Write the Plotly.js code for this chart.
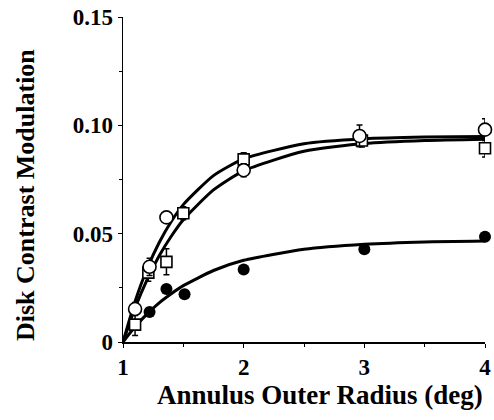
<!DOCTYPE html>
<html>
<head>
<meta charset="utf-8">
<script src="https://cdn.plot.ly/plotly-3.0.1.min.js"></script>
<style>
  html, body { margin: 0; padding: 0; background: #fff; }
  #chart { width: 494px; height: 420px; }
</style>
</head>
<body>
<div id="chart"></div>
<script>
// Measured points (annulus outer radius in deg, disk contrast modulation)
const openX   = [1.10, 1.22, 1.36, 2.00, 2.96, 4.00];
const openY   = [0.0152, 0.0347, 0.0575, 0.0793, 0.0951, 0.0980];
const openErr = [0.003, 0.004, 0.002, 0.003, 0.005, 0.005];

const squareX   = [1.10, 1.21, 1.36, 1.50, 2.00, 2.98, 4.00];
const squareY   = [0.0080, 0.0320, 0.0370, 0.0594, 0.0843, 0.0930, 0.0894];
const squareErr = [0.005, 0.004, 0.006, 0.003, 0.003, 0.003, 0.004];

const filledX = [1.22, 1.36, 1.51, 2.00, 3.00, 4.00];
const filledY = [0.0138, 0.0245, 0.0220, 0.0335, 0.0428, 0.0486];

// Fitted curves, sampled along the radius axis
const curveX      = [1.00, 1.10, 1.20, 1.30, 1.40, 1.50, 1.75, 2.00, 2.50, 3.00, 3.50, 4.00];
const curveUpperY = [0, 0.0187, 0.0338, 0.0459, 0.0556, 0.0634, 0.0768, 0.0845, 0.0915, 0.0938, 0.0946, 0.0949];
const curveLowerY = [0, 0.0157, 0.0288, 0.0398, 0.0488, 0.0564, 0.0702, 0.0790, 0.0880, 0.0916, 0.0930, 0.0936];
const curveDiskY  = [0, 0.0070, 0.0130, 0.0181, 0.0223, 0.0260, 0.0330, 0.0377, 0.0428, 0.0451, 0.0462, 0.0466];

const yTickVals = [0, 0.05, 0.10, 0.15];
const yTickText = ['0', '0.05', '0.10', '0.15'];
const xTickVals = [1, 2, 3, 4];
const xTickText = ['1', '2', '3', '4'];

const xTitle = 'Annulus Outer Radius (deg)';
const yTitle = 'Disk Contrast Modulation';

const serif = 'Liberation Serif, Times New Roman, serif';

const curveLine = { color: '#000', width: 3, shape: 'spline', smoothing: 0.6 };

const traces = [
  { x: curveX, y: curveUpperY, mode: 'lines', line: curveLine, hoverinfo: 'skip' },
  { x: curveX, y: curveLowerY, mode: 'lines', line: curveLine, hoverinfo: 'skip' },
  { x: curveX, y: curveDiskY,  mode: 'lines', line: curveLine, hoverinfo: 'skip' },
  {
    x: filledX, y: filledY, mode: 'markers', cliponaxis: false,
    marker: { symbol: 'circle', size: 12, color: '#000' }
  },
  {
    x: squareX, y: squareY, mode: 'markers', cliponaxis: false,
    error_y: { type: 'data', array: squareErr, color: '#000', thickness: 1.5, width: 3 },
    marker: { symbol: 'square', size: 11, color: '#fff', line: { color: '#000', width: 1.6 } }
  },
  {
    x: openX, y: openY, mode: 'markers', cliponaxis: false,
    error_y: { type: 'data', array: openErr, color: '#000', thickness: 1.5, width: 3 },
    marker: { symbol: 'circle', size: 13, color: '#fff', line: { color: '#000', width: 1.6 } }
  }
];

const axisCommon = {
  ticks: 'outside',
  ticklen: 4,
  tickwidth: 1,
  tickcolor: '#000',
  showline: true,
  linecolor: '#000',
  linewidth: 1.5,
  showgrid: false,
  zeroline: false,
  tickfont: { family: serif, size: 23, weight: 'bold' }
};

const layout = {
  width: 494,
  height: 420,
  margin: { l: 123, r: 9, t: 17, b: 78 },
  paper_bgcolor: '#fff',
  plot_bgcolor: '#fff',
  showlegend: false,
  font: { family: serif, color: '#000', size: 23, weight: 'bold' },
  xaxis: Object.assign({}, axisCommon, {
    range: [1, 4],
    tickvals: xTickVals,
    ticktext: xTickText,
    minor: { dtick: 0.5, ticks: 'outside', ticklen: 3, tickcolor: '#000' }
  }),
  yaxis: Object.assign({}, axisCommon, {
    range: [0, 0.15],
    tickvals: yTickVals,
    ticktext: yTickText,
    minor: { dtick: 0.025, ticks: 'outside', ticklen: 3, tickcolor: '#000' }
  }),
  // Axis titles placed as annotations so they can sit off-centre
  annotations: [
    {
      text: xTitle, xref: 'paper', yref: 'paper',
      x: 0.544, y: -0.163, xanchor: 'center', yanchor: 'middle',
      showarrow: false, font: { family: serif, size: 27, weight: 'bold', color: '#000' }
    },
    {
      text: yTitle, xref: 'paper', yref: 'paper', textangle: -90,
      x: -0.271, y: 0.452, xanchor: 'center', yanchor: 'middle',
      showarrow: false, font: { family: serif, size: 26, weight: 'bold', color: '#000' }
    }
  ]
};

Plotly.newPlot('chart', traces, layout, { displayModeBar: false, staticPlot: true });
</script>
</body>
</html>
